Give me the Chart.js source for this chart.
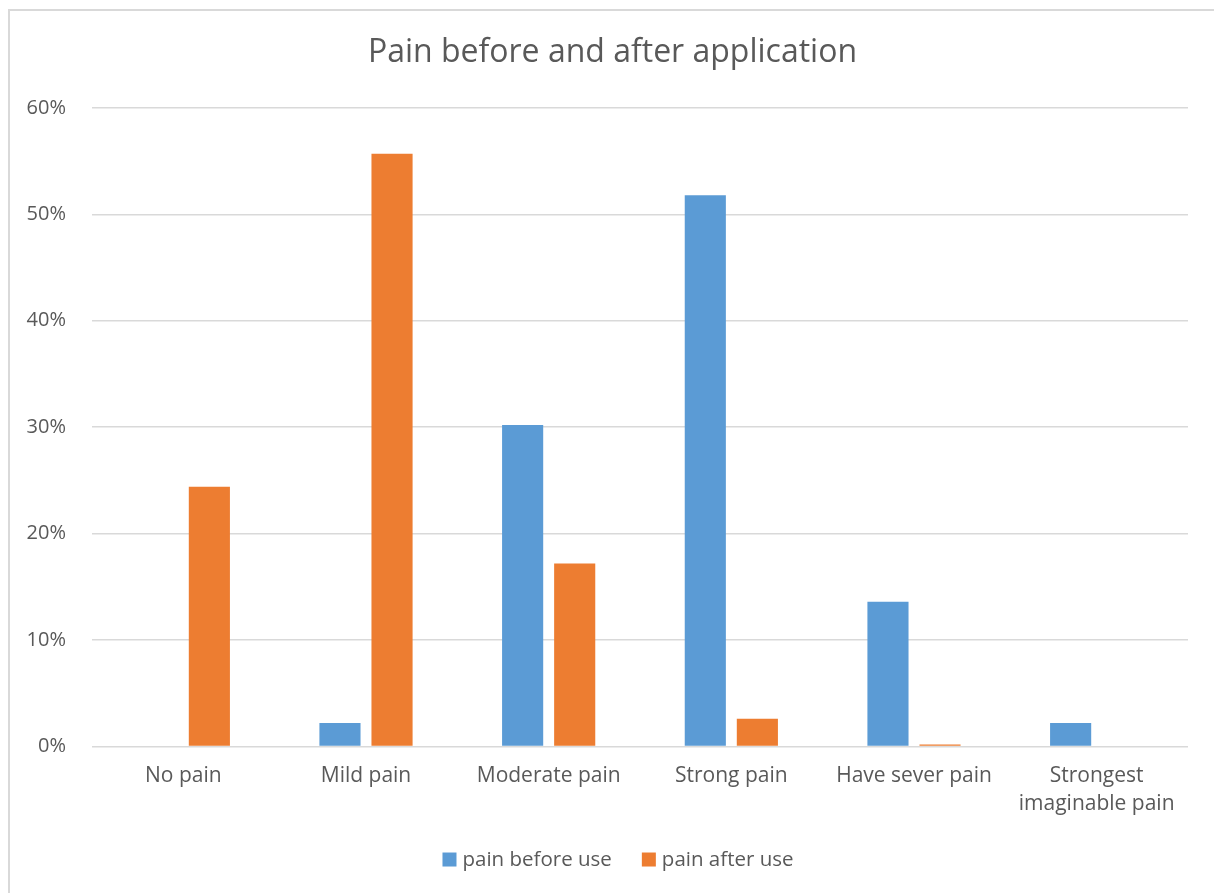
<!DOCTYPE html>
<html>
<head>
<meta charset="utf-8">
<title>Pain before and after application</title>
<script src="https://cdn.jsdelivr.net/npm/chart.js@4.4.1/dist/chart.umd.min.js"></script>
<style>
    body { margin: 0; background: #fff; }
    #wrap {
        position: absolute;
        left: 8px;
        top: 9px;
        width: 1206px;
        height: 884px;
        box-sizing: border-box;
        border-left: 2px solid #d9d9d9;
        border-top: 2px solid #d9d9d9;
    }
</style>
</head>
<body>
<div id="wrap"><canvas id="painChart"></canvas></div>

<script>
// data
const categories = ["No pain", "Mild pain", "Moderate pain", "Strong pain", "Have sever pain", ["Strongest", "imaginable pain"]];
const beforeUse = [0, 2.2, 30.2, 51.8, 13.6, 2.2];
const afterUse = [24.4, 55.7, 17.2, 2.6, 0.2, 0];
const seriesNames = ["pain before use", "pain after use"];
const yTicks = [0, 10, 20, 30, 40, 50, 60];

const FONT = "'Open Sans', 'Noto Sans', sans-serif";
const TEXT = "#595959";

// legend under the axis labels, drawn from the datasets (built-in one can't space items like the original)
const legendBelow = {
    id: 'legendBelow',
    afterLayout(chart) {
        // title sits a bit right of the canvas centre in the original
        chart.titleBlock.left += 27;
    },
    afterDraw(chart) {
        const ctx = chart.ctx;
        const box = 14, gap = 6, spacing = 30;

        ctx.save();
        ctx.font = "20.5px " + FONT;
        ctx.textBaseline = "middle";

        const items = chart.data.datasets.map(ds => ({
            text: ds.label,
            color: ds.backgroundColor,
            w: ctx.measureText(ds.label).width
        }));
        const total = items.reduce((s, it) => s + box + gap + it.w, 0) + spacing * (items.length - 1);

        let x = chart.width / 2 + 6 - total / 2;
        const y = chart.chartArea.bottom + 113;

        items.forEach(it => {
            ctx.fillStyle = it.color;
            ctx.fillRect(x, y - box / 2, box, box);
            ctx.fillStyle = TEXT;
            ctx.fillText(it.text, x + box + gap, y + 1);
            x += box + gap + it.w + spacing;
        });
        ctx.restore();
    }
};

const ctx = document.getElementById("painChart");

const painChart = new Chart(ctx, {
    type: 'bar',
    data: {
        labels: categories,
        datasets: [{
            label: seriesNames[0],
            data: beforeUse,
            backgroundColor: '#5B9BD5'
        }, {
            label: seriesNames[1],
            data: afterUse,
            backgroundColor: '#ED7D31'
        }]
    },
    options: {
        responsive: true,
        maintainAspectRatio: false,
        animation: false,
        categoryPercentage: 0.57,
        barPercentage: 0.79,
        layout: { padding: { left: 0, right: 26, bottom: 58.5 } },
        plugins: {
            tooltip: { enabled: false },
            legend: { display: false },
            title: {
                display: true,
                text: "Pain before and after application",
                color: TEXT,
                font: { family: FONT, size: 32, weight: 'normal' },
                padding: { top: 23, bottom: 35.5 }
            }
        },
        scales: {
            x: {
                grid: { display: false, drawTicks: false, tickLength: 0 },
                border: { display: false },
                ticks: {
                    color: TEXT,
                    font: { family: FONT, size: 21, lineHeight: 1.333 },
                    maxRotation: 0,
                    padding: 16
                }
            },
            y: {
                min: 0,
                max: 60,
                afterBuildTicks(axis) {
                    axis.ticks = yTicks.map(v => ({ value: v }));
                },
                afterFit(axis) {
                    axis.width = 82;
                },
                grid: { color: '#d9d9d9', lineWidth: 1.5, drawTicks: false },
                border: { display: false },
                ticks: {
                    color: TEXT,
                    font: { family: FONT, size: 20 },
                    padding: 26,
                    callback: v => v + "%"
                }
            }
        }
    },
    plugins: [legendBelow]
});
</script>
</body>
</html>
